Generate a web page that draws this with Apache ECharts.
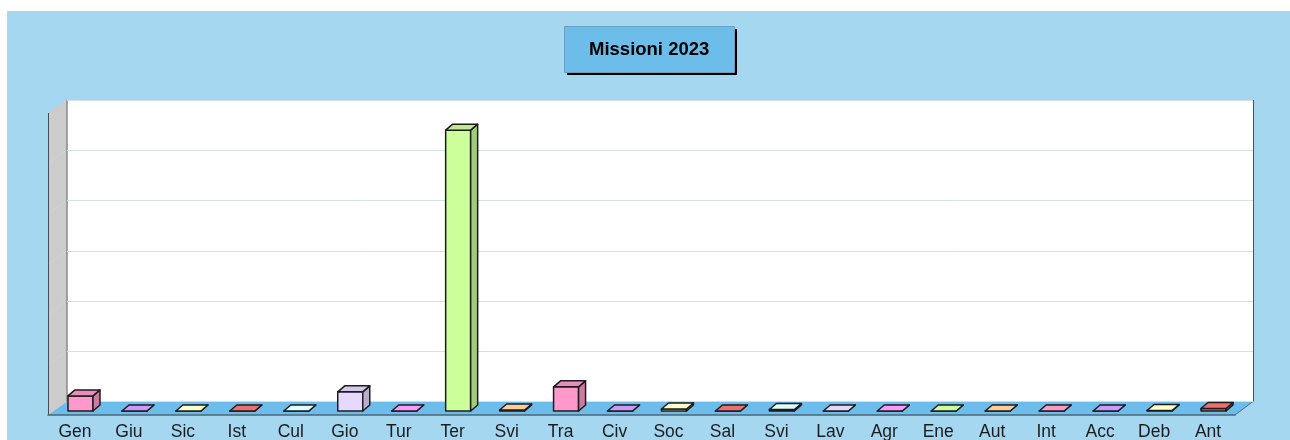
<!DOCTYPE html>
<html>
<head>
<meta charset="utf-8">
<title>Missioni 2023</title>
<script src="https://cdn.jsdelivr.net/npm/echarts@6/dist/echarts.min.js"></script>
<style>
html, body { margin: 0; padding: 0; background: #fff; }
#main { width: 1290px; height: 440px; }
</style>
</head>
<body>
<div id="main"></div>
<script>
var categories = ['Gen', 'Giu', 'Sic', 'Ist', 'Cul', 'Gio', 'Tur', 'Ter', 'Svi', 'Tra', 'Civ',
    'Soc', 'Sal', 'Svi', 'Lav', 'Agr', 'Ene', 'Aut', 'Int', 'Acc', 'Deb', 'Ant'];
var values = [3, 0, 0, 0, 0, 3.8, 0, 55.8, 0.2, 4.8, 0, 0.4, 0, 0.3, 0, 0, 0, 0, 0, 0, 0.1, 0.5];
var gridValues = [10, 20, 30, 40, 50];
var palette = ['#ff99cc', '#cc99ff', '#ffffcc', '#f06e6e', '#e0ffff', '#e6d9ff', '#ff99ff', '#ccff99', '#ffcc99'];

var myChart = echarts.init(document.getElementById('main'));

// 颜色变暗, 用于柱子侧面和顶面
function shade(hex, k) {
    var n = parseInt(hex.slice(1), 16);
    return 'rgb(' + Math.round((n >> 16) * k) + ',' + Math.round(((n >> 8) & 255) * k) + ',' + Math.round((n & 255) * k) + ')';
}

function renderBar(params, api) {
    var i = api.value(0);
    var p = api.coord([i, api.value(1)]);
    var b = api.coord([i, 0]);
    var w = 25, dx = 7, dy = 6;
    var x = p[0] + 5.5 - w / 2;
    var top = p[1] - 4, base = b[1] - 4;
    var color = palette[i % palette.length];
    var line = { stroke: '#1c1c1c', lineWidth: 1.5, lineJoin: 'round' };
    function poly(points, fill) {
        return {
            type: 'polygon',
            shape: { points: points },
            style: Object.assign({ fill: fill }, line)
        };
    }
    return {
        type: 'group',
        children: [
            poly([[x, base], [x + w, base], [x + w, top], [x, top]], color),
            poly([[x + w, base], [x + w + dx, base - dy], [x + w + dx, top - dy], [x + w, top]], shade(color, 0.8)),
            poly([[x, top], [x + w, top], [x + w + dx, top - dy], [x + dx, top - dy]], shade(color, api.value(1) > 1 ? 0.92 : 1))
        ]
    };
}

// 左侧墙上的网格线
function renderWallLine(params, api) {
    var p = api.coord([0, api.value(0)]);
    var x0 = 66;
    return {
        type: 'line',
        shape: { x1: x0, y1: p[1], x2: x0 - 17, y2: p[1] + 13 },
        style: { stroke: '#d0d2d3', lineWidth: 1 }
    };
}

option = {
    backgroundColor: '#ffffff',
    animation: false,
    title: {
        text: 'Missioni 2023',
        left: 564,
        top: 26,
        padding: [12, 25, 12, 25],
        backgroundColor: '#6dbdeb',
        borderColor: '#6a9fc0',
        borderWidth: 1,
        textStyle: { color: '#000', fontFamily: 'Liberation Sans', fontWeight: 'bold', fontSize: 18.5, lineHeight: 23 }
    },
    graphic: [
        { type: 'rect', z: -10, silent: true, shape: { x: 7, y: 11, width: 1283, height: 429 }, style: { fill: '#a6d7f0' } },
        { type: 'rect', z: -9, silent: true, shape: { x: 67, y: 100, width: 1186, height: 302 }, style: { fill: '#fff' } },
        { type: 'polygon', z: -8, silent: true, shape: { points: [[48, 415], [67, 401.5], [1253, 401.5], [1235, 415]] }, style: { fill: '#6cbdeb' } },
        { type: 'polygon', z: -8, silent: true, shape: { points: [[48, 113], [67, 100], [67, 401.5], [48, 415]] }, style: { fill: '#cccccc' } },
        { type: 'line', z: -7, silent: true, shape: { x1: 67, y1: 100, x2: 67, y2: 401.5 }, style: { stroke: '#8a8a8a', lineWidth: 1.5 } },
        { type: 'line', z: -7, silent: true, shape: { x1: 48.5, y1: 113, x2: 48.5, y2: 415 }, style: { stroke: '#444c55', lineWidth: 1 } },
        { type: 'line', z: -7, silent: true, shape: { x1: 1253.5, y1: 100, x2: 1253.5, y2: 401.5 }, style: { stroke: '#3f5566', lineWidth: 1 } },
        { type: 'line', z: -7, silent: true, shape: { x1: 1253, y1: 401.5, x2: 1235, y2: 415 }, style: { stroke: '#3f5566', lineWidth: 0.8 } },
        // 标题框的黑色阴影
        { type: 'rect', z: -6, silent: true, shape: { x: 567, y: 29, width: 170, height: 46 }, style: { fill: '#000' } }
    ],
    grid: [
        { left: 67, right: 37, top: 100, height: 301.5, outerBoundsMode: 'none' },
        { left: 48, right: 55, top: 113, height: 302, outerBoundsMode: 'none' }
    ],
    xAxis: [
        { type: 'category', gridIndex: 0, data: categories, show: false },
        {
            type: 'category',
            gridIndex: 1,
            data: categories,
            axisTick: { show: false },
            axisLine: { onZero: false, lineStyle: { color: '#4f6472', width: 1.5 } },
            axisLabel: { interval: 0, margin: 8, color: '#1c1c1c', fontFamily: 'Liberation Sans', fontSize: 17.5 }
        }
    ],
    yAxis: [
        {
            type: 'value',
            gridIndex: 0,
            min: 0,
            max: 60,
            interval: 10,
            axisLine: { show: false },
            axisTick: { show: false },
            axisLabel: { show: false },
            splitLine: { show: true, lineStyle: { color: '#d5dfe4', width: 1 } }
        },
        { type: 'value', gridIndex: 1, min: 0, max: 60, interval: 10, show: false, splitLine: { show: false } }
    ],
    series: [
        {
            type: 'custom',
            xAxisIndex: 0,
            yAxisIndex: 0,
            silent: true,
            clip: false,
            renderItem: renderWallLine,
            encode: { y: 0 },
            data: gridValues.map(function (v) { return [v]; })
        },
        {
            type: 'custom',
            xAxisIndex: 1,
            yAxisIndex: 1,
            clip: false,
            renderItem: renderBar,
            encode: { x: 0, y: 1 },
            data: values.map(function (v, i) { return [i, v]; })
        }
    ]
};
myChart.setOption(option);
</script>
</body>
</html>
